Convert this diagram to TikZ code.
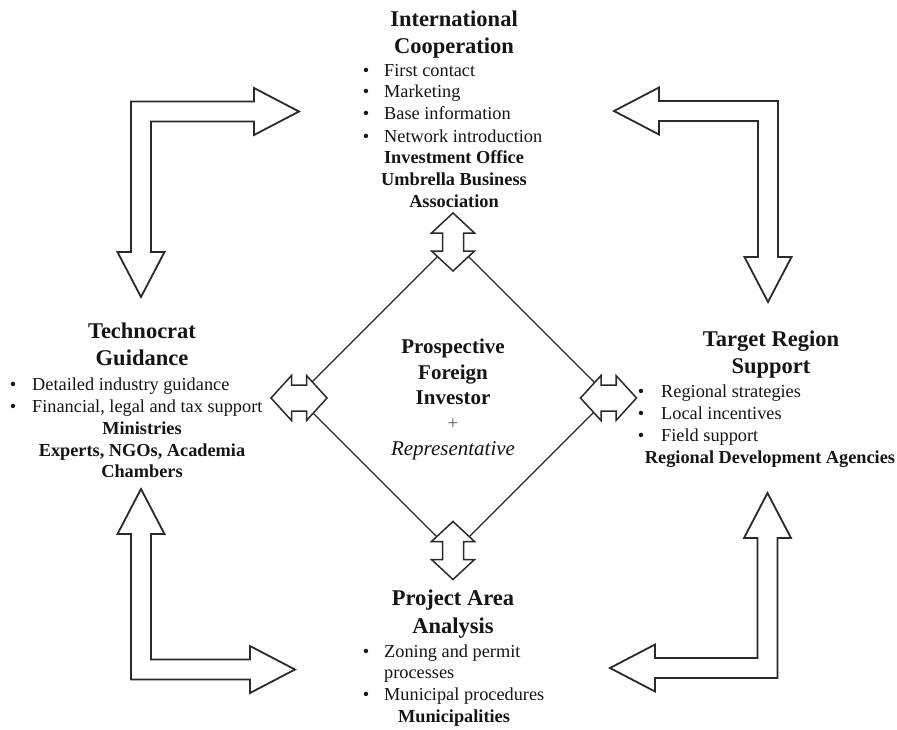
\documentclass[tikz,border=0pt]{standalone}
\usepackage{fontspec}
\setmainfont{Liberation Serif}
\usetikzlibrary{shapes.geometric}
\definecolor{ink}{HTML}{151515}
\definecolor{edge}{HTML}{2A2A2A}
\definecolor{plusgray}{HTML}{5A5A5A}
\begin{document}
\begin{tikzpicture}[x=1pt,y=-1pt,
  ttl/.style={anchor=base,inner sep=0pt,text=ink,font=\fontsize{22.5}{27}\selectfont\bfseries},
  itm/.style={anchor=base west,inner sep=0pt,text=ink,font=\fontsize{18.3}{22}\selectfont},
  bul/.style={anchor=base,inner sep=0pt,text=ink,font=\fontsize{18.3}{22}\selectfont},
  org/.style={anchor=base,inner sep=0pt,text=ink,font=\fontsize{18.3}{22}\selectfont\bfseries},
  ctr/.style={anchor=base,inner sep=0pt,text=ink,font=\fontsize{21}{25}\selectfont\bfseries},
  bigarrow/.style={draw=edge,line width=1.8pt,fill=white,line join=miter},
  dblarrow/.style={draw=edge,line width=1.5pt,fill=white,line join=miter},
  vdbl/.pic={\draw[dblarrow] (0,-29) -- (21.5,-9) -- (10.5,-9) -- (10.5,9) -- (21.5,9) -- (0,29) -- (-21.5,9) -- (-10.5,9) -- (-10.5,-9) -- (-21.5,-9) -- cycle;},
  hdbl/.pic={\draw[dblarrow] (-28,0) -- (-7.5,-22.5) -- (-7.5,-13) -- (7.5,-13) -- (7.5,-22.5) -- (28,0) -- (7.5,22.5) -- (7.5,13) -- (-7.5,13) -- (-7.5,22.5) -- cycle;},
]
\useasboundingbox[fill=white] (0,0) rectangle (897,729);

% central diamond
\node[diamond,draw=edge,line width=1.3pt,minimum width=312pt,minimum height=312pt,
      aspect=1,inner sep=0pt,outer sep=0pt] (inv) at (453,397) {};

% small double arrows at the diamond corners
\pic at (453,242) {vdbl};
\pic at (453,550.5) {vdbl};
\pic at (299,398) {hdbl};
\pic at (608.5,398) {hdbl};

% bent arrows
\draw[bigarrow] (131,252) -- (131,101.5) -- (254,101.5) -- (254,88) -- (299,111.5) -- (254,135) -- (254,121.5) -- (151,121.5) -- (151,252) -- (164.5,252) -- (141,297) -- (117.5,252) -- cycle;
\draw[bigarrow] (778,257) -- (778,101) -- (659,101) -- (659,87.5) -- (614,111) -- (659,134.5) -- (659,121) -- (758,121) -- (758,257) -- (744.5,257) -- (768,302) -- (791.5,257) -- cycle;
\draw[bigarrow] (131,534) -- (131,679.5) -- (250,679.5) -- (250,693) -- (295,669.5) -- (250,646) -- (250,659.5) -- (151,659.5) -- (151,534) -- (164.5,534) -- (141,489) -- (117.5,534) -- cycle;
\draw[bigarrow] (777.5,538) -- (777.5,678) -- (655,678) -- (655,691.5) -- (610,668) -- (655,644.5) -- (655,658) -- (757.5,658) -- (757.5,538) -- (744,538) -- (767.5,493) -- (791,538) -- cycle;

% top block
\node[ttl] (ic1) at (454,26) {International};
\node[ttl] (ic2) at (454,53) {Cooperation};
\node[bul] (icb1) at (366,76) {•};
\node[itm] (ici1) at (384,76) {First contact};
\node[bul] (icb2) at (366,97) {•};
\node[itm] (ici2) at (384,97) {Marketing};
\node[bul] (icb3) at (366,119) {•};
\node[itm] (ici3) at (384,119) {Base information};
\node[bul] (icb4) at (366,142) {•};
\node[itm] (ici4) at (384,142) {Network introduction};
\node[org] (ico1) at (454,163) {Investment Office};
\node[org] (ico2) at (454,185) {Umbrella Business};
\node[org] (ico3) at (454,207) {Association};

% left block
\node[ttl] (tg1) at (142,338) {Technocrat};
\node[ttl] (tg2) at (142,365) {Guidance};
\node[bul] (tgb1) at (13,390) {•};
\node[itm] (tgi1) at (32,390) {Detailed industry guidance};
\node[bul] (tgb2) at (13,412) {•};
\node[itm] (tgi2) at (32,412) {Financial, legal and tax support};
\node[org] (tgo1) at (142,434) {Ministries};
\node[org] (tgo2) at (142,456) {Experts, NGOs, Academia};
\node[org] (tgo3) at (142,477) {Chambers};

% right block
\node[ttl] (tr1) at (771,346) {Target Region};
\node[ttl] (tr2) at (771,373) {Support};
\node[bul] (trb1) at (641,397) {•};
\node[itm] (tri1) at (661,397) {Regional strategies};
\node[bul] (trb2) at (641,419) {•};
\node[itm] (tri2) at (661,419) {Local incentives};
\node[bul] (trb3) at (641,441) {•};
\node[itm] (tri3) at (661,441) {Field support};
\node[org] (tro1) at (770,463) {Regional Development Agencies};

% bottom block
\node[ttl] (pa1) at (453,605) {Project Area};
\node[ttl] (pa2) at (453,633) {Analysis};
\node[bul] (pab1) at (366,657) {•};
\node[itm] (pai1) at (384,657) {Zoning and permit};
\node[itm] (pai1b) at (384,678) {processes};
\node[bul] (pab2) at (366,700) {•};
\node[itm] (pai2) at (384,700) {Municipal procedures};
\node[org] (pao1) at (454,722) {Municipalities};

% centre text
\node[ctr] (pf1) at (453,353) {Prospective};
\node[ctr] (pf2) at (453,379) {Foreign};
\node[ctr] (pf3) at (453,404) {Investor};
\node[inner sep=0pt,text=plusgray,font=\fontsize{19}{22}\selectfont] (pfp) at (453,424) {+};
\node[anchor=base,inner sep=0pt,text=ink,font=\fontsize{21}{25}\selectfont\itshape] (pf4) at (453,455) {Representative};
\end{tikzpicture}
\end{document}
